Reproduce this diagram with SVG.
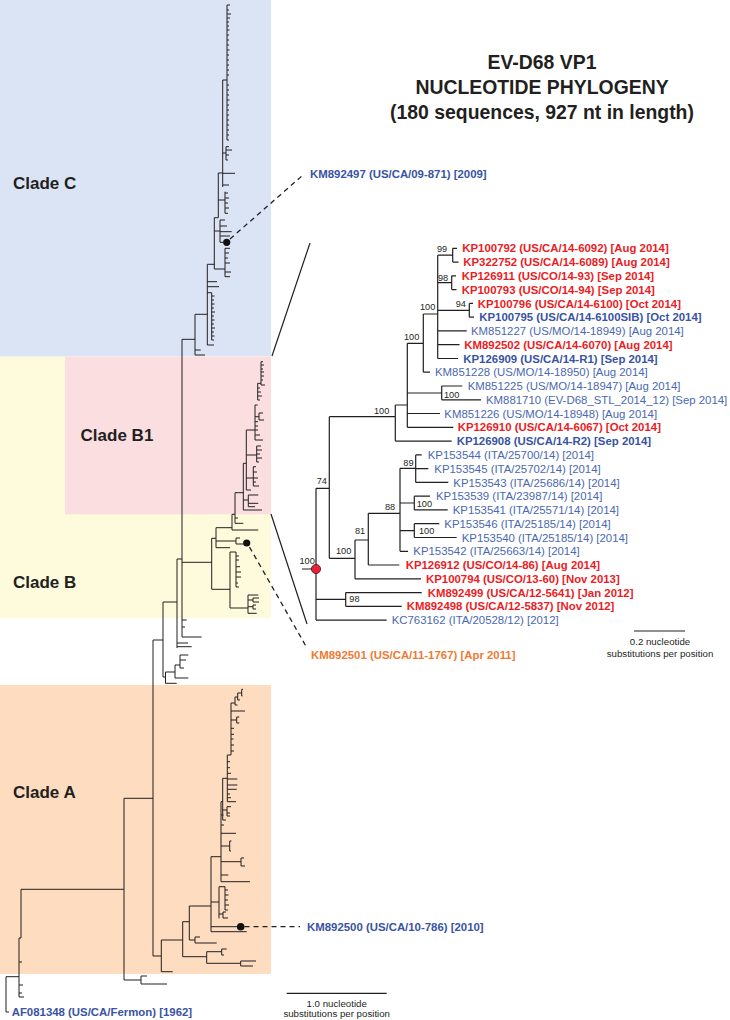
<svg xmlns="http://www.w3.org/2000/svg" width="730" height="1020" viewBox="0 0 730 1020">
<style>
.t{fill:none;stroke:#231f20;stroke-width:1}
.s{fill:none;stroke:#231f20;stroke-width:1.2}
.d{fill:none;stroke:#231f20;stroke-width:1.3;stroke-dasharray:5 4}
text{font-family:"Liberation Sans",Arial,Helvetica,sans-serif}
.lb{font-size:11.4px}
.b{font-weight:bold}
.r{fill:#ec1c24}
.bl{fill:#3953a4}
.bn{fill:#4a68b1}
.o{fill:#f07a32}
.bs{font-size:9.2px;fill:#231f20}
.cl{font-size:17px;font-weight:bold;fill:#231f20}
.ti{font-size:19.4px;font-weight:bold;fill:#231f20;text-anchor:middle}
.sc{font-size:9.7px;fill:#231f20;text-anchor:middle}
</style>
<g id="backgrounds">
<rect x="0" y="0" width="271" height="356.7" fill="#dbe4f4"/>
<rect x="0" y="356.7" width="271" height="261.6" fill="#fefbdc"/>
<rect x="65" y="356.7" width="206" height="157.6" fill="#fbdfe0"/>
<rect x="0" y="685" width="271" height="289" fill="#fddcbf"/>
</g>
<g id="clade-labels">
<text class="cl" x="13" y="189">Clade C</text>
<text class="cl" x="80.6" y="441">Clade B1</text>
<text class="cl" x="13" y="588">Clade B</text>
<text class="cl" x="13" y="798">Clade A</text>
</g>
<g id="title">
<text class="ti" x="542" y="68.7">EV-D68 VP1</text>
<text class="ti" x="542" y="94">NUCLEOTIDE PHYLOGENY</text>
<text class="ti" x="542" y="118.8">(180 sequences, 927 nt in length)</text>
</g>
<g id="connectors">
<path id="main-tree" class="t" d="M6,976.7V1012H9M6,976.7H19M19,938V997M19,938H21M21,889.3V938M21,889.3H124M19,962H22M19,985H23M19,993H22M19,997H24
M124,798.3V980M124,980H141M141,976V984M141,976H147M141,984H167M124,798.3H153
M153,640V956M153,956H161.3M153,640H163
M161.3,940V971.7M161.3,971.7H172.7M161.3,940H182.7M182.7,921.7V956.7M182.7,956.7H206.7M206.7,951.7V963.3M206.7,951.7H221.7M221.7,949V955M221.7,949H226.7M221.7,955H224M206.7,963.3H240.7M240.7,961V966M240.7,961H256M240.7,966H253
M182.7,921.7H189.3M189.3,906V940M189.3,940H195M195,937V943M195,937H200M195,943H216.7M189.3,906H211
M211,856.7V931.7M211,926.7H237M211,931.7H246.7M211,902H219M219,886.7V918.3M219,886.7H225M225,886.7V910M225,890H228M225,895H228.5M225,900H228M225,905H229M225,910H228M219,914H223M223,912V918M223,912H226M223,918H228
M211,856.7H221M221,801.7V881.7M221,881.7H250M221,875H228.3M221,861.7H241M241,858V866M241,858H244M241,866H245M221,846H229.7M229.7,841V851M229.7,841H231.5M229.7,851H231M221,833.3H236M221,825H224M221,815H223.5
M221,801.7H222.7M222.7,778.3V820M222.7,820H226M222.7,810H227M227,806.7V816M227,806.7H231M227,813H230M227,816H230
M222.7,778.3H227.3M227.3,755V801.7M227.3,761.7H230M227.3,767.7H230M227.3,773.3H231M227.3,779H237.3M227.3,785H237.3M227.3,789.3H236.7M227.3,794H230M227.3,797.7H231M227.3,801.7H236
M227.3,755H231M231,703V755M231,728.3H234M231,734.3H234M231,739H233.5M231,745H234M231,751H234M231,711H245M231,720H236.7M236.7,717V723M236.7,717H239.3M236.7,723H239.3M231,703H235M235,697V705M235,705H237.5M235,697H237.7M237.7,693V700M237.7,700H240M237.7,693H241.7M241.7,689.3V696M241.7,689.3H243M241.7,696H242.5
M163,602V677M163,602H177M163,677H165.5M165.5,672V683.3M165.5,683.3H176.7M165.5,672H175M175,665V678M175,678H188.3M175,665H180M180,655V668M180,655H188.3M180,660H186M180,668H184
M177,559V648M177,559H182M177,646.7H191.7M177,643H188
M182,339.3V637M182,620H186.7M182,627H185M182,637H201.7M182,562.3H211.7
M211.7,538.3V589.3M211.7,538.3H216M216,527.7V547.7M216,547.7H230M216,541H236M236,538V544M236,538H240M236,544H243.5M216,527.7H232M232,514.3V530M232,530H258.3M232,514.3H235M235,492.7V523.3M235,523.3H243.3M235,518H238M235,492.7H243.3
M211.7,589.3H230M230,552V608M230,552H236M236,552V587M236,556H239M236,560H239M236,566.7H240M236,572H241M236,577H241M236,583H238M236,587H239M230,608H248M248,595V613.3M248,595H258.3M248,600H253M253,598V602M253,598H259M253,602H259M248,606.7H253M253,605V609M253,605H256M253,609H256M248,613.3H256.7
M243.3,463.3V510M243.3,510H262M243.3,500H248.3M248.3,495V506.7M248.3,495H258.3M248.3,503.3H258.3M248.3,506.7H255M243.3,463.3H246.3M246.3,430V490M246.3,490H251
M246.3,478H253.3M253.3,466.7V486M253.3,466.7H256M253.3,472H257M253.3,478H258M253.3,482H256M253.3,486H259
M246.3,455H256.7M256.7,446V462M256.7,446H261M256.7,450H262M256.7,454H260M256.7,458H262M256.7,462H259
M246.3,430H255M255,405V440M255,421.7H258M255,426H258M255,430H258M255,435H260M255,440H263M255,416.7H259M259,413V420M259,413H263M259,420H264
M255,405H257.7M257.7,383.3V400M257.7,388H260M257.7,392H261M257.7,396H262M257.7,400H260M257.7,383.3H261M261,361.7V385M261,361.7H263M261,365H264M261,369H263M261,372H264M261,376H264M261,380H263M261,385H265
M182,339.3H195M195,314.3V355M195,355H205M195,350H200.7M195,314.3H207.3M207.3,264.3V345M207.3,345H214M207.3,281.7H217M207.3,286.7H219M207.3,292.7H211.7M211.7,292.7V340
M211.7,296H214.5M211.7,300H214M211.7,304H214.5M211.7,308H214M211.7,312H215M211.7,316H214M211.7,320H214.5M211.7,324H214M211.7,328H215M211.7,332H214M211.7,336H214.5M211.7,340H214
M207.3,264.3H214.3M214.3,217.7V269M214.3,269H225M225,248.3V276.7M225,248.3H230M225,253H229M225,258H228M225,263H230M225,272H231M225,276.7H230
M214.3,231H220M220,220V242.3M220,220H225M220,226H227M220,231.7H231.7M220,236H230M220,242.3H223
M214.3,217.7H218.3M218.3,173V217.7M218.3,200H225M225,191.7V213.3M225,193H228M225,198H229M225,203H228M225,208H229M225,213.3H228
M218.3,173H222.7M222.7,80V187M222.7,185H229M222.7,173.3H235M222.7,153H226M226,146.7V160M226,146.7H229M226,150H232M226,155H229M226,160H228
M222.7,80H227M227,5V140M227,5H230M227,10H229M227,14H231M227,18H230M227,22H229M227,26H229M227,30H229.5M227,35H229M227,40H229M227,45H229M227,50H229.5M227,55H229M227,60H229M227,65H229M227,70H229M227,75H229M227,85H229M227,90H229M227,95H229M227,100H229.5M227,105H229M227,110H229M227,115H229M227,120H229M227,125H229M227,130H229M227,135H229M227,140H229"/>
<path id="sub-tree" class="s" d="M452.7,248.3V262.1M452.7,248.3H457M452.7,262.1H458.5M451.7,275.8V289.6M451.7,275.8H456M451.7,289.6H456.5M469.3,303.4V317.2M469.3,303.4H473M469.3,317.2H474
M437.7,255.2V358.5M437.7,255.2H452.7M437.7,282.7H451.7M437.7,310.3H469.3M437.7,330.9H466.7M437.7,344.7H459.5M437.7,358.5H458
M423.3,314V372.2M423.3,314H437.7M423.3,372.2H430
M407.3,343.3V427.3M407.3,343.3H423.3M407.3,393H441.7M407.3,413.5H440M407.3,427.3H453.3
M441.7,386V399.8M441.7,386H462.3M441.7,399.8H481
M395.3,405V441.1M395.3,405H407.3M395.3,441.1H451.7
M329.3,416.7V558.3M329.3,416.7H395.3M329.3,558.3H355
M355,540V578.8M355,540H368.3M355,578.8H421
M368.3,513.3V565M368.3,513.3H400M368.3,565H399.3
M400,468.3V551.3M400,468.3H415.7M400,503H414.3M400,530.6H414.3M400,551.3H408
M415.7,454.9V482.4M415.7,454.9H421.7M415.7,468.6H428.3M415.7,482.4H448.3
M414.3,496.2V509.9M414.3,496.2H430M414.3,509.9H447.7
M414.3,523.7V537.5M414.3,523.7H439.3M414.3,537.5H456.7
M316,488.3V620.1M316,488.3H329.3M316,599.4H345.7M316,620.1H386.7
M345.7,592.6V606.3M345.7,592.6H421.7M345.7,606.3H401.7
M302,569H316"/>
<path id="zoom-lines" class="s" d="M272,356L310,243M271,514L307,624"/>
<path id="dash-KM892497" class="d" d="M230,239L303,175"/>
<path id="dash-KM892501" class="d" d="M249.5,547L307,648"/>
<path id="dash-KM892500" class="d" d="M244.5,926.7H300"/>
<path id="scale-bars" class="s" d="M634,631H685M286.7,993.3H386.7"/>
</g>
<g id="markers">
<circle cx="226.7" cy="242.3" r="3.6" fill="#111"/>
<circle cx="246.7" cy="543" r="3.6" fill="#111"/>
<circle cx="240.7" cy="926.7" r="3.8" fill="#111"/>
<circle id="mrca" cx="316" cy="569" r="4.6" fill="#e8203a" stroke="#3a1a1a" stroke-width="0.8"/>
</g>
<g id="bootstrap" class="bs">
<text class="bs" x="437" y="251.5">99</text>
<text class="bs" x="438" y="280.5">98</text>
<text class="bs" x="455.7" y="306.5">94</text>
<text class="bs" x="420" y="310">100</text>
<text class="bs" x="404" y="340">100</text>
<text class="bs" x="444" y="397.5">100</text>
<text class="bs" x="374" y="414">100</text>
<text class="bs" x="316.7" y="483.5">74</text>
<text class="bs" x="403.3" y="465.8">89</text>
<text class="bs" x="416.7" y="506.8">100</text>
<text class="bs" x="385" y="509.5">88</text>
<text class="bs" x="419" y="533.5">100</text>
<text class="bs" x="355" y="533.5">81</text>
<text class="bs" x="336" y="554">100</text>
<text class="bs" x="299.5" y="563.5">100</text>
<text class="bs" x="349.3" y="601.8">98</text>
</g>
<g id="tip-KP100792"><text class="lb b r" x="462.3" y="252.4">KP100792 (US/CA/14-6092) [Aug 2014]</text></g>
<g id="tip-KP322752"><text class="lb b r" x="463.3" y="266.2">KP322752 (US/CA/14-6089) [Aug 2014]</text></g>
<g id="tip-KP126911"><text class="lb b r" x="461.7" y="279.9">KP126911 (US/CO/14-93) [Sep 2014]</text></g>
<g id="tip-KP100793"><text class="lb b r" x="461.7" y="293.7">KP100793 (US/CO/14-94) [Sep 2014]</text></g>
<g id="tip-KP100796"><text class="lb b r" x="477.7" y="307.5">KP100796 (US/CA/14-6100) [Oct 2014]</text></g>
<g id="tip-KP100795"><text class="lb b bl" x="479.3" y="321.3">KP100795 (US/CA/14-6100SIB) [Oct 2014]</text></g>
<g id="tip-KM851227"><text class="lb bn" x="471" y="335">KM851227 (US/MO/14-18949) [Aug 2014]</text></g>
<g id="tip-KM892502"><text class="lb b r" x="464.3" y="348.8">KM892502 (US/CA/14-6070) [Aug 2014]</text></g>
<g id="tip-KP126909"><text class="lb b bl" x="463.3" y="362.6">KP126909 (US/CA/14-R1) [Sep 2014]</text></g>
<g id="tip-KM851228"><text class="lb bn" x="435" y="376.3">KM851228 (US/MO/14-18950) [Aug 2014]</text></g>
<g id="tip-KM851225"><text class="lb bn" x="467.7" y="390.1">KM851225 (US/MO/14-18947) [Aug 2014]</text></g>
<g id="tip-KM881710"><text class="lb bn" x="486" y="403.9">KM881710 (EV-D68_STL_2014_12) [Sep 2014]</text></g>
<g id="tip-KM851226"><text class="lb bn" x="444.3" y="417.6">KM851226 (US/MO/14-18948) [Aug 2014]</text></g>
<g id="tip-KP126910"><text class="lb b r" x="457.7" y="431.4">KP126910 (US/CA/14-6067) [Oct 2014]</text></g>
<g id="tip-KP126908"><text class="lb b bl" x="456.7" y="445.2">KP126908 (US/CA/14-R2) [Sep 2014]</text></g>
<g id="tip-KP153544"><text class="lb bn" x="427.7" y="459">KP153544 (ITA/25700/14) [2014]</text></g>
<g id="tip-KP153545"><text class="lb bn" x="434.3" y="472.7">KP153545 (ITA/25702/14) [2014]</text></g>
<g id="tip-KP153543"><text class="lb bn" x="453.3" y="486.5">KP153543 (ITA/25686/14) [2014]</text></g>
<g id="tip-KP153539"><text class="lb bn" x="436" y="500.3">KP153539 (ITA/23987/14) [2014]</text></g>
<g id="tip-KP153541"><text class="lb bn" x="452.7" y="514">KP153541 (ITA/25571/14) [2014]</text></g>
<g id="tip-KP153546"><text class="lb bn" x="444.3" y="527.8">KP153546 (ITA/25185/14) [2014]</text></g>
<g id="tip-KP153540"><text class="lb bn" x="461.7" y="541.6">KP153540 (ITA/25185/14) [2014]</text></g>
<g id="tip-KP153542"><text class="lb bn" x="413.3" y="555.4">KP153542 (ITA/25663/14) [2014]</text></g>
<g id="tip-KP126912"><text class="lb b r" x="405.7" y="569.1">KP126912 (US/CO/14-86) [Aug 2014]</text></g>
<g id="tip-KP100794"><text class="lb b r" x="426" y="582.9">KP100794 (US/CO/13-60) [Nov 2013]</text></g>
<g id="tip-KM892499"><text class="lb b r" x="427.7" y="596.7">KM892499 (US/CA/12-5641) [Jan 2012]</text></g>
<g id="tip-KM892498"><text class="lb b r" x="406.7" y="610.4">KM892498 (US/CA/12-5837) [Nov 2012]</text></g>
<g id="tip-KC763162"><text class="lb bn" x="391.7" y="624.2">KC763162 (ITA/20528/12) [2012]</text></g>
<g id="tip-KM892497"><text class="lb b bl" x="310" y="177.5">KM892497 (US/CA/09-871) [2009]</text></g>
<g id="tip-KM892501"><text class="lb b o" x="311" y="659">KM892501 (US/CA/11-1767) [Apr 2011]</text></g>
<g id="tip-KM892500"><text class="lb b bl" x="307" y="931">KM892500 (US/CA/10-786) [2010]</text></g>
<g id="tip-AF081348"><text class="lb b bl" x="11.7" y="1015.5">AF081348 (US/CA/Fermon) [1962]</text></g>
<g id="scale-small">
<text class="sc" x="660" y="645">0.2 nucleotide</text>
<text class="sc" x="660" y="656.5">substitutions per position</text>
</g>
<g id="scale-large">
<text class="sc" x="336.7" y="1006.5">1.0 nucleotide</text>
<text class="sc" x="336.7" y="1017">substitutions per position</text>
</g>
</svg>
